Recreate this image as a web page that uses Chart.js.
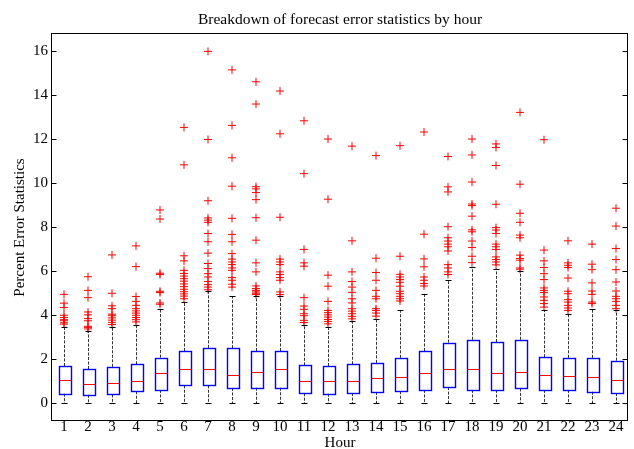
<!DOCTYPE html>
<html>
<head>
<meta charset="utf-8">
<title>Forecast error by hour</title>
<script src="https://cdn.jsdelivr.net/npm/chart.js@4.4.0/dist/chart.umd.min.js"></script>
<style>
  html, body { margin: 0; padding: 0; background: #fff; }
</style>
</head>
<body>
<canvas id="boxChart" width="634" height="449"></canvas>
<script>
// hourly error statistics (percent)
var hours = [1, 2, 3, 4, 5, 6, 7, 8, 9, 10, 11, 12, 13, 14, 15, 16, 17, 18, 19, 20, 21, 22, 23, 24];
var yTicks = [0, 2, 4, 6, 8, 10, 12, 14, 16];

var whiskerLow = [0, 0, 0, 0, 0, 0, 0, 0, 0, 0, 0, 0, 0, 0, 0, 0, 0, 0, 0, 0, 0, 0, 0, 0];
var q1 = [0.44, 0.39, 0.41, 0.55, 0.61, 0.82, 0.82, 0.70, 0.71, 0.71, 0.46, 0.44,
          0.47, 0.52, 0.55, 0.61, 0.74, 0.61, 0.61, 0.68, 0.61, 0.61, 0.53, 0.47];
var median = [1.06, 0.87, 0.93, 1.02, 1.37, 1.55, 1.55, 1.29, 1.43, 1.55, 1.02, 1.02,
              1.02, 1.14, 1.20, 1.37, 1.58, 1.58, 1.37, 1.43, 1.28, 1.25, 1.21, 1.06];
var q3 = [1.70, 1.56, 1.66, 1.78, 2.08, 2.38, 2.52, 2.51, 2.38, 2.38, 1.73, 1.70,
          1.78, 1.84, 2.07, 2.38, 2.76, 2.89, 2.79, 2.89, 2.10, 2.07, 2.07, 1.94];
var whiskerHigh = [3.46, 3.27, 3.49, 3.58, 4.28, 4.62, 5.09, 4.86, 4.86, 4.86, 3.58, 3.49,
                   3.74, 3.84, 4.22, 4.98, 5.62, 6.20, 6.12, 6.00, 4.22, 4.07, 4.28, 4.22];

var outliers = [
  [4.95, 4.55, 4.35, 4.0, 3.9, 3.8, 3.75, 3.66, 3.6],
  [5.75, 5.13, 4.8, 4.15, 4.02, 3.85, 3.75, 3.5, 3.45, 3.38],
  [6.74, 5.0, 4.43, 4.3, 4.05, 3.98, 3.88, 3.78, 3.68, 3.58],
  [7.15, 6.21, 4.85, 4.63, 4.45, 4.3, 4.2, 4.1, 4.0, 3.9, 3.8, 3.7],
  [8.78, 8.37, 5.91, 5.85, 5.09, 5.03, 4.56, 4.5],
  [12.53, 10.83, 6.7, 6.47, 6.04, 5.9, 5.78, 5.66, 5.55, 5.42, 5.3, 5.18, 5.07, 4.97, 4.87, 4.75],
  [15.98, 11.98, 9.2, 8.42, 8.32, 8.22, 7.71, 7.34, 6.82, 6.35, 6.12, 5.89, 5.74, 5.53, 5.39, 5.28, 5.16],
  [15.14, 12.62, 11.15, 9.86, 8.4, 7.67, 7.34, 6.8, 6.55, 6.42, 6.3, 6.15, 6.04, 5.71, 5.59, 5.41, 5.28],
  [14.6, 13.59, 9.84, 9.74, 9.57, 9.25, 8.43, 7.41, 6.38, 5.97, 5.33, 5.21, 5.13, 5.06, 5.0, 4.94],
  [14.18, 12.24, 8.45, 6.55, 6.42, 6.3, 5.97, 5.85, 5.71, 5.59, 5.06, 4.94],
  [12.83, 10.43, 6.99, 6.38, 6.23, 4.8, 4.42, 4.27, 4.07, 3.98, 3.77, 3.67],
  [12.0, 9.27, 5.82, 5.32, 4.63, 4.22, 4.12, 4.02, 3.92, 3.81, 3.72, 3.61],
  [11.68, 7.38, 5.97, 5.53, 5.28, 5.04, 4.75, 4.56, 4.3, 4.19, 4.07, 3.95, 3.84],
  [11.25, 6.59, 5.94, 5.59, 5.13, 4.86, 4.75, 4.3, 4.22, 4.1, 3.96],
  [11.7, 6.68, 5.86, 5.74, 5.62, 5.5, 5.32, 5.09, 4.98, 4.86, 4.75, 4.65],
  [12.32, 7.68, 6.56, 6.2, 5.74, 5.59, 5.44, 5.33],
  [11.21, 9.83, 9.6, 8.02, 7.52, 7.37, 7.23, 7.11, 6.92, 6.3, 6.15, 5.97, 5.85],
  [12.0, 11.28, 10.05, 9.05, 8.98, 8.5, 7.88, 7.79, 7.37, 7.08, 6.68, 6.39],
  [11.78, 11.62, 10.8, 9.04, 7.98, 7.87, 7.71, 7.23, 7.11, 6.99, 6.65, 6.53, 6.42, 6.29],
  [13.21, 9.95, 8.63, 8.22, 7.64, 7.52, 6.73, 6.58, 6.5, 6.15, 6.09],
  [11.97, 6.96, 6.47, 6.17, 5.89, 5.62, 5.24, 5.13, 5.03, 4.83, 4.68, 4.53, 4.37],
  [7.38, 6.38, 6.27, 6.17, 5.69, 5.09, 4.98, 4.71, 4.6, 4.45, 4.33, 4.22],
  [7.23, 6.32, 6.07, 5.47, 5.1, 4.95, 4.6, 4.53],
  [8.86, 8.05, 7.03, 6.53, 6.07, 5.51, 5.1, 4.86, 4.75, 4.63, 4.45, 4.3]
];

var chartTitle = 'Breakdown of forecast error statistics by hour';

// flatten outliers into scatter points
var outlierPoints = [];
hours.forEach(function (h, i) {
  outliers[i].forEach(function (v) {
    outlierPoints.push({ x: h, y: v });
  });
});

var serif = 'Liberation Serif, Times New Roman, serif';
var boxWidth = 0.5;   // in x units
var capWidth = 0.25;

function crisp(v) {
  return Math.round(v) + 0.5;
}

// boxes, medians and whiskers drawn through the chart's scales
var boxPlugin = {
  id: 'boxes',
  afterDatasetsDraw: function (chart) {
    var ctx = chart.ctx;
    var xs = chart.scales.x;
    var ys = chart.scales.y;
    var halfBox = (xs.getPixelForValue(boxWidth) - xs.getPixelForValue(0)) / 2;
    var halfCap = (xs.getPixelForValue(capWidth) - xs.getPixelForValue(0)) / 2;

    ctx.save();
    hours.forEach(function (h, i) {
      var cx = crisp(xs.getPixelForValue(h));
      var yLo = ys.getPixelForValue(whiskerLow[i]);
      var yQ1 = ys.getPixelForValue(q1[i]);
      var yMed = ys.getPixelForValue(median[i]);
      var yQ3 = ys.getPixelForValue(q3[i]);
      var yHi = ys.getPixelForValue(whiskerHigh[i]);

      // dashed whiskers
      ctx.strokeStyle = '#333';
      ctx.lineWidth = 1;
      ctx.setLineDash([3, 1.5]);
      ctx.beginPath();
      ctx.moveTo(cx, yQ3);
      ctx.lineTo(cx, yHi);
      ctx.moveTo(cx, yQ1);
      ctx.lineTo(cx, yLo);
      ctx.stroke();

      // whisker caps
      ctx.strokeStyle = '#000';
      ctx.setLineDash([]);
      ctx.beginPath();
      ctx.moveTo(cx - halfCap, crisp(yHi));
      ctx.lineTo(cx + halfCap, crisp(yHi));
      ctx.moveTo(cx - halfCap, crisp(yLo));
      ctx.lineTo(cx + halfCap, crisp(yLo));
      ctx.stroke();

      // box
      ctx.strokeStyle = '#0000ff';
      ctx.lineWidth = 1.4;
      var l = crisp(cx - halfBox), r = crisp(cx + halfBox);
      ctx.strokeRect(l, crisp(yQ3), r - l, crisp(yQ1) - crisp(yQ3));

      // median
      ctx.strokeStyle = '#ff0000';
      ctx.lineWidth = 1;
      ctx.beginPath();
      ctx.moveTo(l, crisp(yMed));
      ctx.lineTo(r, crisp(yMed));
      ctx.stroke();
    });
    ctx.restore();
  },
  afterDraw: function (chart) {
    // axes box with inward y ticks on both sides
    var ctx = chart.ctx;
    var a = chart.chartArea;
    var ys = chart.scales.y;
    var l = crisp(a.left) - 1, r = crisp(a.right) - 1, t = crisp(a.top) - 1, b = crisp(a.bottom) - 1;
    ctx.save();
    ctx.strokeStyle = '#000';
    ctx.lineWidth = 1;
    ctx.strokeRect(l, t, r - l, b - t);
    ctx.beginPath();
    yTicks.forEach(function (v) {
      var py = crisp(ys.getPixelForValue(v));
      ctx.moveTo(l, py);
      ctx.lineTo(l + 5, py);
      ctx.moveTo(r, py);
      ctx.lineTo(r - 5, py);
    });
    ctx.stroke();

    // title centred over the plot area
    ctx.fillStyle = '#000';
    ctx.font = '15.5px ' + serif;
    ctx.textAlign = 'center';
    ctx.textBaseline = 'alphabetic';
    ctx.fillText(chartTitle, (a.left + a.right) / 2, 24);
    ctx.restore();
  }
};

var ctx = document.getElementById('boxChart').getContext('2d');
var boxChart = new Chart(ctx, {
  type: 'scatter',
  data: {
    datasets: [{
      label: 'Outliers',
      data: outlierPoints,
      pointStyle: 'cross',
      radius: 4,
      borderColor: '#ff0000',
      backgroundColor: '#ff0000',
      borderWidth: 1
    }]
  },
  options: {
    responsive: false,
    animation: false,
    layout: { padding: { left: 0, right: 6, top: 34, bottom: 0 } },
    plugins: {
      legend: { display: false },
      tooltip: { enabled: false },
      title: { display: false }
    },
    scales: {
      x: {
        type: 'linear',
        min: 0.5,
        max: 24.5,
        afterBuildTicks: function (scale) {
          scale.ticks = hours.map(function (h) { return { value: h }; });
        },
        afterFit: function (scale) { scale.height = 28; },
        grid: { display: false, drawTicks: false },
        border: { display: false },
        ticks: {
          color: '#000',
          padding: -1,
          autoSkip: false,
          maxRotation: 0,
          font: { family: serif, size: 15, lineHeight: 1.0 }
        },
        title: {
          display: true,
          text: 'Hour',
          color: '#000',
          font: { family: serif, size: 15, lineHeight: 0.8 },
          padding: { top: 0, bottom: 0 }
        }
      },
      y: {
        min: -0.8,
        max: 16.77,
        afterBuildTicks: function (scale) {
          scale.ticks = yTicks.map(function (v) { return { value: v }; });
        },
        afterFit: function (scale) { scale.width = 52; },
        grid: { display: false, drawTicks: false },
        border: { display: false },
        ticks: {
          color: '#000',
          padding: 4,
          font: { family: serif, size: 15 }
        },
        title: {
          display: true,
          text: 'Percent Error Statistics',
          color: '#000',
          font: { family: serif, size: 15, lineHeight: 1.2 },
          padding: { top: 11, bottom: 0 }
        }
      }
    }
  },
  plugins: [boxPlugin]
});
</script>
</body>
</html>
